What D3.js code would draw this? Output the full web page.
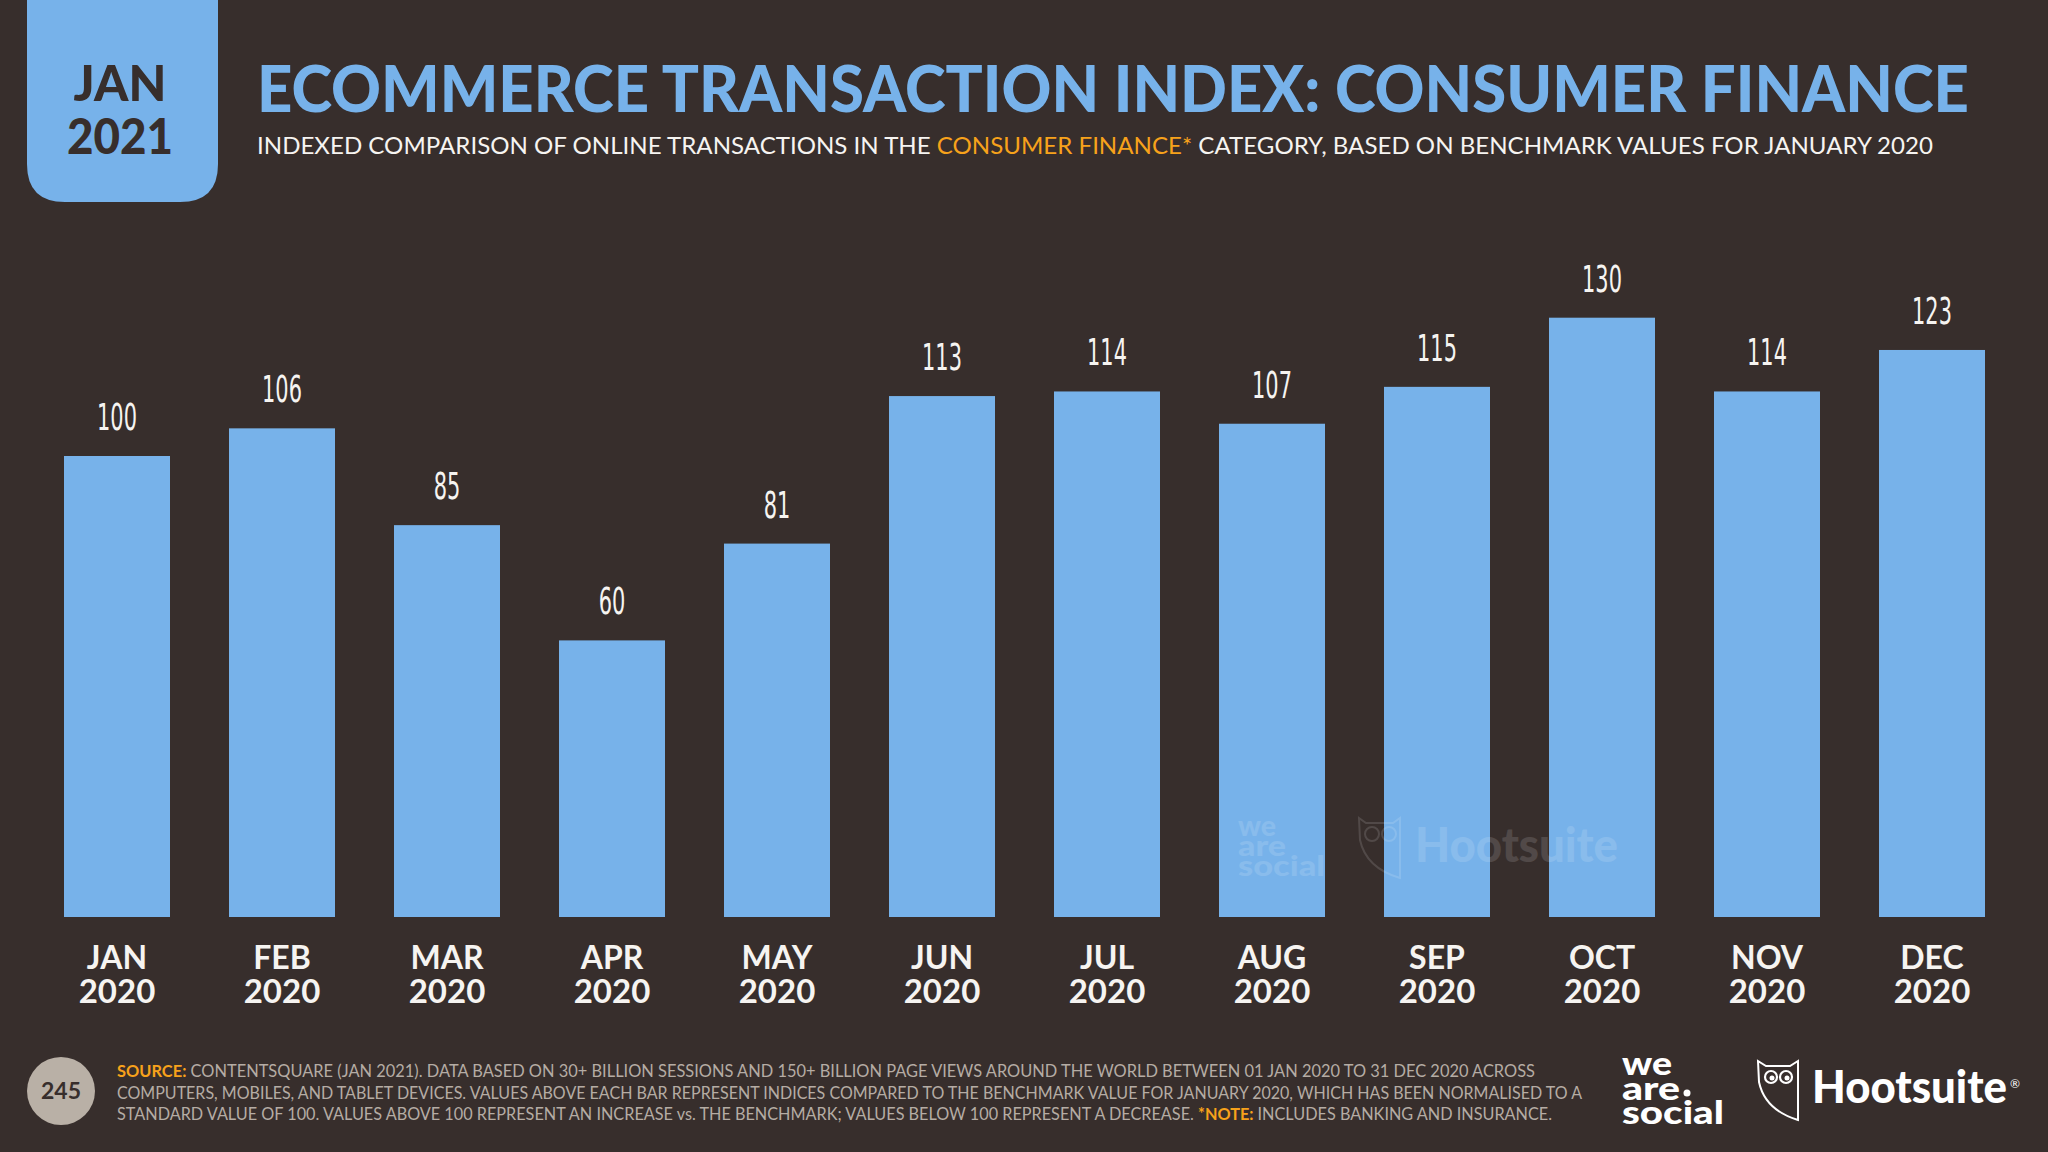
<!DOCTYPE html>
<html>
<head>
<meta charset="utf-8">
<script src="https://cdn.jsdelivr.net/npm/d3@7"></script>
<style>
  html, body { margin: 0; padding: 0; background: #372e2c; }
  svg { display: block; }
</style>
</head>
<body>
<svg id="chart" width="2048" height="1152"></svg>
<script>
// ---------- DATA ----------
const months = ["JAN","FEB","MAR","APR","MAY","JUN","JUL","AUG","SEP","OCT","NOV","DEC"];
const years  = ["2020","2020","2020","2020","2020","2020","2020","2020","2020","2020","2020","2020"];
const values = [100,106,85,60,81,113,114,107,115,130,114,123];

const titleText = "ECOMMERCE TRANSACTION INDEX: CONSUMER FINANCE";
const subtitleParts = [
  {t: "INDEXED COMPARISON OF ONLINE TRANSACTIONS IN THE ", hl: false},
  {t: "CONSUMER FINANCE*", hl: true},
  {t: " CATEGORY, BASED ON BENCHMARK VALUES FOR JANUARY 2020", hl: false}
];
const dateBoxLines = ["JAN", "2021"];
const pageNumber = "245";
const footerLines = [
  [{t:"SOURCE:", hl:true},{t:" CONTENTSQUARE (JAN 2021). DATA BASED ON 30+ BILLION SESSIONS AND 150+ BILLION PAGE VIEWS AROUND THE WORLD BETWEEN 01 JAN 2020 TO 31 DEC 2020 ACROSS", hl:false}],
  [{t:"COMPUTERS, MOBILES, AND TABLET DEVICES. VALUES ABOVE EACH BAR REPRESENT INDICES COMPARED TO THE BENCHMARK VALUE FOR JANUARY 2020, WHICH HAS BEEN NORMALISED TO A", hl:false}],
  [{t:"STANDARD VALUE OF 100. VALUES ABOVE 100 REPRESENT AN INCREASE vs. THE BENCHMARK; VALUES BELOW 100 REPRESENT A DECREASE. ", hl:false},{t:"*NOTE:", hl:true},{t:" INCLUDES BANKING AND INSURANCE.", hl:false}]
];

// ---------- STYLE ----------
const BG = "#372e2c";
const BLUE = "#77b2ea";
const ORANGE = "#f7a21b";
const WHITE = "#f6f4f1";
const GREY = "#b5aca4";

const svg = d3.select("#chart");
svg.append("rect").attr("width", 2048).attr("height", 1152).attr("fill", BG);

// ---------- SCALES ----------
const x = d3.scaleBand().domain(months).range([34.5, 2014.5])
  .paddingInner(59/165).paddingOuter(59/330);
const y = d3.scaleLinear().domain([0, 100]).range([917, 456]);

// ---------- BARS ----------
const data = months.map((m, i) => ({m, yr: years[i], v: values[i]}));
svg.append("g").selectAll("rect").data(data).join("rect")
  .attr("x", d => x(d.m))
  .attr("y", d => y(d.v))
  .attr("width", x.bandwidth())
  .attr("height", d => y(0) - y(d.v))
  .attr("fill", BLUE);

// value labels
svg.append("g").selectAll("text").data(data).join("text")
  .attr("x", d => x(d.m) + x.bandwidth()/2)
  .attr("y", d => y(d.v) - 26)
  .attr("text-anchor", "middle")
  .attr("font-family", "'Liberation Sans Narrow', 'DejaVu Sans Condensed', 'Roboto Condensed', sans-serif")
  .attr("font-size", 38)
  .attr("fill", WHITE)
  .attr("textLength", d => String(d.v).length * 13.3)
  .attr("lengthAdjust", "spacingAndGlyphs")
  .text(d => d.v);

// category axis labels
const xAxisG = svg.append("g");
xAxisG.selectAll("text.m").data(data).join("text").attr("class","m")
  .attr("x", d => x(d.m) + x.bandwidth()/2)
  .attr("y", 969)
  .attr("text-anchor", "middle")
  .attr("font-family", "Lato, 'Noto Sans', sans-serif")
  .attr("font-weight", 700)
  .attr("font-size", 32)
  .attr("fill", WHITE)
  .text(d => d.m);
xAxisG.selectAll("text.yr").data(data).join("text").attr("class","yr")
  .attr("x", d => x(d.m) + x.bandwidth()/2)
  .attr("y", 1003)
  .attr("text-anchor", "middle")
  .attr("font-family", "Lato, 'Noto Sans', sans-serif")
  .attr("font-weight", 700)
  .attr("font-size", 33)
  .attr("fill", WHITE)
  .text(d => d.yr);

// ---------- WATERMARK ----------
const wm = svg.append("g").attr("opacity", 0.13).attr("fill", "#ffffff");
["we","are","social"].forEach((w, i) => {
  wm.append("text").attr("x", 1238).attr("y", 836 + i*20)
    .attr("font-family", "Lato, sans-serif").attr("font-weight", 900)
    .attr("font-size", 28)
    .attr("textLength", [38, 48, 87][i]).attr("lengthAdjust", "spacingAndGlyphs")
    .text(w);
});
wm.append("path")
  .attr("d", "M1359,818 L1366,823 L1393,823 L1400,818 L1400,878 Q1366,868 1360,840 Z")
  .attr("fill", "none").attr("stroke", "#ffffff").attr("stroke-width", 2);
wm.append("circle").attr("cx", 1372).attr("cy", 834).attr("r", 7).attr("fill","none").attr("stroke","#fff").attr("stroke-width",2);
wm.append("circle").attr("cx", 1389).attr("cy", 834).attr("r", 7).attr("fill","none").attr("stroke","#fff").attr("stroke-width",2);
wm.append("text").attr("x", 1415).attr("y", 862)
  .attr("font-family", "Lato, sans-serif").attr("font-weight", 900)
  .attr("font-size", 47).attr("textLength", 203).attr("lengthAdjust", "spacingAndGlyphs")
  .text("Hootsuite");

// ---------- HEADER ----------
svg.append("path")
  .attr("d", "M27,-10 L218,-10 L218,164 Q218,202 180,202 L65,202 Q27,202 27,164 Z")
  .attr("fill", BLUE);
dateBoxLines.forEach((t, i) => {
  svg.append("text").attr("x", 120).attr("y", [101, 154][i])
    .attr("text-anchor", "middle")
    .attr("font-family", "Lato, sans-serif").attr("font-weight", 900)
    .attr("font-size", 50).attr("fill", BG)
    .attr("textLength", [93, 106][i]).attr("lengthAdjust", "spacingAndGlyphs")
    .text(t);
});

svg.append("text").attr("x", 257).attr("y", 112)
  .attr("font-family", "Lato, sans-serif").attr("font-weight", 900)
  .attr("font-size", 65).attr("fill", BLUE)
  .attr("textLength", 1712).attr("lengthAdjust", "spacingAndGlyphs")
  .text(titleText);

const sub = svg.append("text").attr("x", 257).attr("y", 154)
  .attr("font-family", "Lato, sans-serif").attr("font-weight", 400)
  .attr("font-size", 24).attr("fill", WHITE)
  .attr("textLength", 1676).attr("lengthAdjust", "spacingAndGlyphs");
subtitleParts.forEach(p => sub.append("tspan").attr("fill", p.hl ? ORANGE : WHITE).text(p.t));

// ---------- FOOTER ----------
svg.append("circle").attr("cx", 61).attr("cy", 1091).attr("r", 34).attr("fill", "#b9b0a6");
svg.append("text").attr("x", 61).attr("y", 1099).attr("text-anchor", "middle")
  .attr("font-family", "Lato, sans-serif").attr("font-weight", 700)
  .attr("font-size", 23).attr("fill", BG).text(pageNumber);

const footLens = [1418, 1465, 1435];
footerLines.forEach((parts, i) => {
  const t = svg.append("text").attr("x", 117).attr("y", 1077 + i*21.5)
    .attr("font-family", "Lato, sans-serif").attr("font-size", 17.5)
    .attr("fill", GREY)
    .attr("textLength", footLens[i]).attr("lengthAdjust", "spacingAndGlyphs");
  parts.forEach(p => t.append("tspan")
    .attr("fill", p.hl ? ORANGE : GREY)
    .attr("font-weight", p.hl ? 700 : 400)
    .text(p.t));
});

// logos
const logo = svg.append("g").attr("fill", "#ffffff");
["we","are","social"].forEach((w, i) => {
  logo.append("text").attr("x", 1622).attr("y", 1075 + i*24.5)
    .attr("font-family", "Lato, sans-serif").attr("font-weight", 900)
    .attr("font-size", 33)
    .attr("textLength", [50, 58, 102][i]).attr("lengthAdjust", "spacingAndGlyphs")
    .text(w);
});
logo.append("circle").attr("cx", 1687).attr("cy", 1093).attr("r", 3.5);
logo.append("path")
  .attr("d", "M1758,1061 L1766,1066 L1790,1066 L1798,1061 L1798,1120 Q1765,1110 1759,1082 Z")
  .attr("fill", "none").attr("stroke", "#ffffff").attr("stroke-width", 2);
logo.append("circle").attr("cx", 1771).attr("cy", 1077).attr("r", 6).attr("fill","none").attr("stroke","#fff").attr("stroke-width",2.2);
logo.append("circle").attr("cx", 1786).attr("cy", 1077).attr("r", 6).attr("fill","none").attr("stroke","#fff").attr("stroke-width",2.2);
logo.append("circle").attr("cx", 1772).attr("cy", 1078).attr("r", 2.5);
logo.append("circle").attr("cx", 1787).attr("cy", 1078).attr("r", 2.5);
logo.append("text").attr("x", 1812).attr("y", 1103)
  .attr("font-family", "Lato, sans-serif").attr("font-weight", 900)
  .attr("font-size", 46).attr("textLength", 195).attr("lengthAdjust", "spacingAndGlyphs")
  .text("Hootsuite");
logo.append("text").attr("x", 2010).attr("y", 1088)
  .attr("font-family", "Lato, sans-serif").attr("font-size", 12).text("®");
</script>
</body>
</html>
